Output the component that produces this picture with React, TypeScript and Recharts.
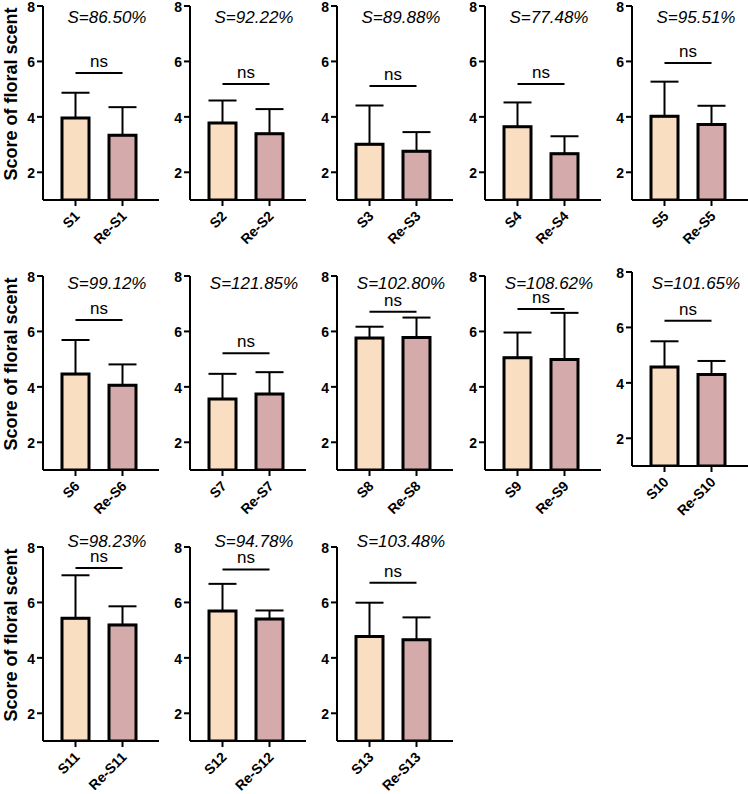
import React from 'react';
import { BarChart, Bar, XAxis, YAxis, Cell, ErrorBar, ReferenceLine, Customized } from 'recharts';

// samples and their re-evaluated counterparts
const samples = ['S1', 'S2', 'S3', 'S4', 'S5', 'S6', 'S7', 'S8', 'S9', 'S10', 'S11', 'S12', 'S13'];
const scoreS = [3.96, 3.78, 3.01, 3.64, 4.02, 4.46, 3.56, 5.76, 5.05, 4.57, 5.43, 5.69, 4.77];
const sdS = [0.91, 0.81, 1.40, 0.88, 1.25, 1.23, 0.91, 0.41, 0.91, 0.93, 1.55, 0.98, 1.22];
const scoreRe = [3.34, 3.39, 2.76, 2.67, 3.72, 4.06, 3.74, 5.78, 4.99, 4.30, 5.19, 5.40, 4.65];
const sdRe = [1.01, 0.89, 0.69, 0.63, 0.68, 0.75, 0.79, 0.72, 1.68, 0.49, 0.67, 0.31, 0.81];
const similarity = ['86.50', '92.22', '89.88', '77.48', '95.51', '99.12', '121.85', '102.80', '108.62', '101.65', '98.23', '94.78', '103.48'];
const nsLevel = [5.58, 5.19, 5.11, 5.19, 5.94, 6.41, 5.21, 6.71, 6.81, 6.24, 7.24, 7.19, 6.71];
const yTicks = [2, 4, 6, 8];

const FONT = '"Liberation Sans", Arial, Helvetica, sans-serif';
const COLORS = ['#FADEC2', '#D4AAAA'];

// layout
const COL_X = [43, 190, 337, 485, 632];
const ROW_TOP = [6, 276, 547];
const TITLE_DY = [17, 13, 0];
const PLOT_W = 116;
const PLOT_H = 194;
const M_TOP = 20;
const M_LEFT = 13;
const AXIS_W = 30;
const X_H = 50;
const CHART_W = M_LEFT + AXIS_W + PLOT_W + 3;
const CHART_H = M_TOP + PLOT_H + X_H + 6;

const XTick = (props: any) => {
  const { x, y, payload } = props;
  const px = x + 5;
  const py = y + 9;
  return (
    <text
      x={px}
      y={py}
      transform={`rotate(-45 ${px} ${py})`}
      textAnchor="end"
      fontFamily={FONT}
      fontSize={14}
      fontWeight="bold"
      fill="#000"
    >
      {payload.value}
    </text>
  );
};

const YTick = (props: any) => {
  const { x, y, payload } = props;
  return (
    <text x={x} y={y + 6} textAnchor="end" fontFamily={FONT} fontSize={14} fontWeight="bold" fill="#000">
      {payload.value}
    </text>
  );
};

const Panel = ({ i }: { i: number }) => {
  const row = Math.floor(i / 5);
  const col = i % 5;
  // S10 panel sits a few pixels higher in the original figure
  const top8 = i === 9 ? 272 : ROW_TOP[row];
  const titleDy = i === 9 ? 17 : TITLE_DY[row];
  const data = [
    { name: samples[i], v: scoreS[i], err: [0, sdS[i]] },
    { name: 'Re-' + samples[i], v: scoreRe[i], err: [0, sdRe[i]] },
  ];

  return (
    <div style={{ position: 'absolute', left: COL_X[col] - M_LEFT - AXIS_W, top: top8 - M_TOP }}>
      <BarChart
        width={CHART_W}
        height={CHART_H}
        data={data}
        margin={{ top: M_TOP, right: 3, left: M_LEFT, bottom: 6 }}
        barCategoryGap={0}
      >
        <XAxis
          dataKey="name"
          height={X_H}
          padding={{ left: 9, right: 13 }}
          axisLine={{ stroke: '#000', strokeWidth: 2 }}
          tickLine={{ stroke: '#000', strokeWidth: 2 }}
          tickSize={6}
          tickMargin={2}
          interval={0}
          tick={<XTick />}
        />
        <YAxis
          width={AXIS_W}
          domain={[1, 8]}
          ticks={yTicks}
          allowDataOverflow
          axisLine={{ stroke: '#000', strokeWidth: 2 }}
          tickLine={{ stroke: '#000', strokeWidth: 2 }}
          tickSize={6}
          tickMargin={2}
          tick={<YTick />}
        />
        <Bar dataKey="v" barSize={27} stroke="#000" strokeWidth={3} isAnimationActive={false}>
          {data.map((d, k) => (
            <Cell key={d.name} fill={COLORS[k]} />
          ))}
          <ErrorBar dataKey="err" direction="y" width={14} stroke="#000" strokeWidth={2} isAnimationActive={false} />
        </Bar>
        <ReferenceLine
          segment={[
            { x: data[0].name, y: nsLevel[i] },
            { x: data[1].name, y: nsLevel[i] },
          ]}
          stroke="#000"
          strokeWidth={2}
          label={{ value: 'ns', position: 'top', offset: 6, fill: '#000', fontSize: 17, fontFamily: FONT }}
        />
        <Customized
          component={() => (
            <g>
              <text
                x={M_LEFT + AXIS_W + 64}
                y={M_TOP + titleDy}
                textAnchor="middle"
                fontFamily={FONT}
                fontSize={17}
                fontStyle="italic"
                fill="#000"
              >
                {`S=${similarity[i]}%`}
              </text>
              {col === 0 && (
                <text
                  x={17}
                  y={M_TOP + PLOT_H / 2 - 9}
                  transform={`rotate(-90 17 ${M_TOP + PLOT_H / 2 - 9})`}
                  textAnchor="middle"
                  fontFamily={FONT}
                  fontSize={18}
                  fontWeight="bold"
                  fill="#000"
                >
                  Score of floral scent
                </text>
              )}
            </g>
          )}
        />
      </BarChart>
    </div>
  );
}

export default function App() {
  return (
    <div
      style={{
        position: 'absolute',
        left: 0,
        top: 0,
        width: 748,
        height: 794,
        overflow: 'hidden',
        background: '#fff',
      }}
    >
      {samples.map((s, i) => (
        <Panel key={s} i={i} />
      ))}
    </div>
  );
}
